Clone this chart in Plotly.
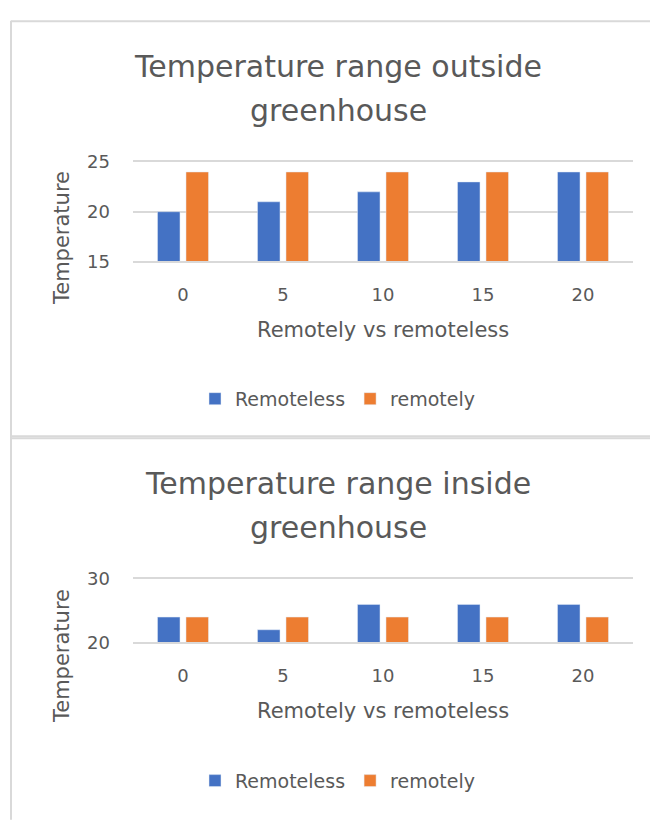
import plotly.graph_objects as go

# Data
categories = ["0", "5", "10", "15", "20"]
outside_remoteless = [20, 21, 22, 23, 24]
outside_remotely = [24, 24, 24, 24, 24]
inside_remoteless = [24, 22, 26, 26, 26]
inside_remotely = [24, 24, 24, 24, 24]
series_names = ["Remoteless", "remotely"]
titles = [["Temperature range outside", "greenhouse"],
          ["Temperature range inside", "greenhouse"]]
y_title = "Temperature"
x_title = "Remotely vs remoteless"

W, H = 650, 820
BLUE, ORANGE = "#4472C4", "#ED7D31"
TEXT = "#595959"
GRID = "#D9D9D9"
FONT = "DejaVu Sans"


def px_x(p):
    return p / W


def px_y(p):
    return 1 - p / H


fig = go.Figure()

# outside chart
fig.add_trace(go.Bar(x=categories, y=outside_remoteless, name=series_names[0],
                     marker_color=BLUE, xaxis="x", yaxis="y", legend="legend"))
fig.add_trace(go.Bar(x=categories, y=outside_remotely, name=series_names[1],
                     marker_color=ORANGE, xaxis="x", yaxis="y", legend="legend"))
# inside chart
fig.add_trace(go.Bar(x=categories, y=inside_remoteless, name=series_names[0],
                     marker_color=BLUE, xaxis="x2", yaxis="y2", legend="legend2"))
fig.add_trace(go.Bar(x=categories, y=inside_remotely, name=series_names[1],
                     marker_color=ORANGE, xaxis="x2", yaxis="y2", legend="legend2"))

xdom = [px_x(133), px_x(633)]
# the x axis line (mirrored) supplies the grid lines at both ends of the value range
xaxis_common = dict(type="category", domain=xdom, showgrid=False,
                    showline=True, mirror=True, linecolor=GRID, linewidth=1.5,
                    zeroline=False, ticks="", ticklabelstandoff=16,
                    tickfont=dict(family=FONT, size=18, color=TEXT), fixedrange=True)
yaxis_common = dict(showgrid=True, gridcolor=GRID, gridwidth=1.5, zeroline=False,
                    showline=False, ticks="", ticklabelstandoff=22,
                    tickfont=dict(family=FONT, size=18, color=TEXT), fixedrange=True)

fig.update_layout(
    width=W, height=H,
    margin=dict(l=0, r=0, t=0, b=0),
    paper_bgcolor="white", plot_bgcolor="white",
    barmode="group", bargap=0.43, bargroupgap=0.21,
    font=dict(family=FONT, color=TEXT),
    xaxis=dict(**xaxis_common, anchor="y"),
    yaxis=dict(**yaxis_common, anchor="x", domain=[px_y(257), px_y(155)],
               range=[15, 25], dtick=5, tick0=15),
    xaxis2=dict(**xaxis_common, anchor="y2"),
    yaxis2=dict(**yaxis_common, anchor="x2", domain=[px_y(648), px_y(583)],
                range=[20, 30], dtick=10, tick0=20),
    legend=dict(orientation="h", x=px_x(195), xanchor="left", y=px_y(398), yanchor="middle",
                font=dict(family=FONT, size=19, color=TEXT), bgcolor="rgba(0,0,0,0)",
                itemclick=False),
    legend2=dict(orientation="h", x=px_x(195), xanchor="left", y=px_y(790), yanchor="middle",
                 font=dict(family=FONT, size=19, color=TEXT), bgcolor="rgba(0,0,0,0)",
                 itemclick=False),
    showlegend=True,
)

annotations = []
for offset, (line1, line2) in zip([0, 428], titles):
    for text, yc in [(line1, 57 + offset), (line2, 102 + offset)]:
        annotations.append(dict(text=text, x=px_x(338), y=px_y(yc), xref="paper", yref="paper",
                                xanchor="center", yanchor="middle", showarrow=False,
                                font=dict(family=FONT, size=30, color=TEXT)))
for yc in [233, 662]:
    annotations.append(dict(text=y_title, x=px_x(62), y=px_y(yc), xref="paper", yref="paper",
                            xanchor="center", yanchor="middle", showarrow=False, textangle=-90,
                            font=dict(family=FONT, size=21, color=TEXT)))
for yc in [327, 718]:
    annotations.append(dict(text=x_title, x=px_x(383), y=px_y(yc), xref="paper", yref="paper",
                            xanchor="center", yanchor="middle", showarrow=False,
                            font=dict(family=FONT, size=21, color=TEXT)))
fig.update_layout(annotations=annotations)

# chart frames
frame = dict(color="#D9D9D9", width=2)
shapes = [
    dict(type="line", xref="paper", yref="paper", x0=px_x(11), x1=px_x(11),
         y0=px_y(10), y1=px_y(830), line=frame),
    dict(type="line", xref="paper", yref="paper", x0=px_x(11), x1=px_x(660),
         y0=px_y(10.5), y1=px_y(10.5), line=frame),
    dict(type="line", xref="paper", yref="paper", x0=px_x(11), x1=px_x(660),
         y0=px_y(436.5), y1=px_y(436.5), line=frame),
    dict(type="line", xref="paper", yref="paper", x0=px_x(11), x1=px_x(660),
         y0=px_y(438.5), y1=px_y(438.5), line=frame),
]
fig.update_layout(shapes=shapes)

fig.write_html("out.html")
